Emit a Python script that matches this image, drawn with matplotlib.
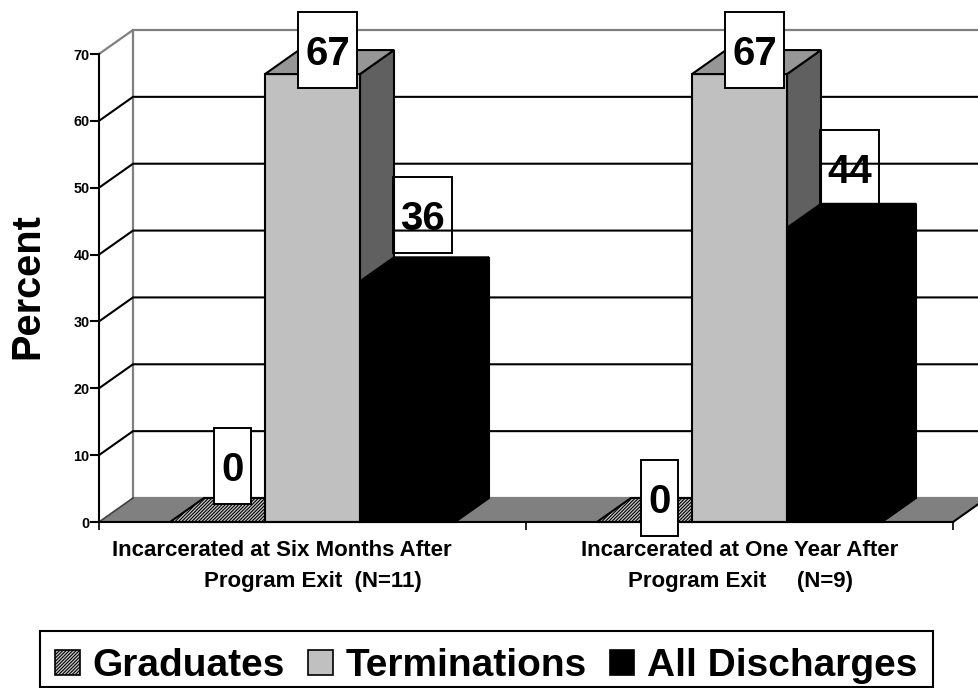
import matplotlib
matplotlib.use("Agg")
import matplotlib.pyplot as plt
from matplotlib.patches import Patch, Polygon, Rectangle

plt.rcParams["font.family"] = ["Liberation Sans", "DejaVu Sans"]
plt.rcParams["font.weight"] = "bold"
plt.rcParams["hatch.linewidth"] = 0.8

# Chart values
series_names = ["Graduates", "Terminations", "All Discharges"]
six_months = [0, 67, 36]
one_year = [0, 67, 44]
groups = [six_months, one_year]
y_ticks = [0, 10, 20, 30, 40, 50, 60, 70]
group_label_lines = [
    ["Incarcerated at Six Months After", "Program Exit  (N=11)"],
    ["Incarcerated at One Year After", "Program Exit     (N=9)"],
]

# Plot frame in pixels on a 979x688 canvas
W, H = 979, 688
LEFT, RIGHT, BASE, TOP = 99, 953, 522, 54
fig = plt.figure(figsize=(W / 100, H / 100), dpi=100, facecolor="white")
ax = fig.add_axes([LEFT / W, 1 - BASE / H, (RIGHT - LEFT) / W, (BASE - TOP) / H])
ax.set_xlim(0, 2)
ax.set_ylim(0, 70)
ax.patch.set_visible(False)

# Converters from pixels to axis units
sx = 2 / (RIGHT - LEFT)
sy = 70 / (BASE - TOP)
DX, DY = 34 * sx, 24 * sy      # oblique depth of the 3-D box
BAR_W = 95 * sx
GAP = 71 * sx

WALL = "#808080"
ax.add_patch(Polygon([(0, 0), (2, 0), (2 + DX, DY), (DX, DY)], closed=True,
                     fc="#808080", ec="none", zorder=1, clip_on=False))
ax.plot([0, DX, DX, 2 + DX], [70, 70 + DY, DY, DY], color=WALL, lw=1.6,
        zorder=1.2, clip_on=False)
ax.plot([DX, 2 + DX], [70 + DY, 70 + DY], color=WALL, lw=1.6, zorder=1.2, clip_on=False)
ax.plot([0, DX], [0, DY], color="#404040", lw=1.2, zorder=1.2, clip_on=False)
ax.plot([2, 2 + DX], [0, DY], color="black", lw=1.5, zorder=1.2, clip_on=False)
for v in y_ticks[1:-1]:
    ax.plot([0, DX, 2 + DX], [v, v + DY, v + DY], color="black", lw=1.5,
            zorder=1.3, clip_on=False)


def draw_bar(x, value, front, top, side, hatch=None):
    """Front, top and right faces of one oblique bar."""
    kw = dict(closed=True, clip_on=False, joinstyle="miter", zorder=2)
    edge = dict(ec="black", lw=1.5)
    if value > 0:
        ax.add_patch(Polygon([(x + BAR_W, 0), (x + BAR_W + DX, DY),
                              (x + BAR_W + DX, value + DY), (x + BAR_W, value)],
                             fc=side, **edge, **kw))
        ax.add_patch(Polygon([(x, 0), (x + BAR_W, 0), (x + BAR_W, value), (x, value)],
                             fc=front, **edge, **kw))
    ax.add_patch(Polygon([(x, value), (x + BAR_W, value), (x + BAR_W + DX, value + DY),
                          (x + DX, value + DY)], fc=top, hatch=hatch, **edge, **kw))


# Face colours per series: front, top, side
faces = [("#c0c0c0", "#c8c8c8", "#606060"),
         ("#c0c0c0", "#969696", "#606060"),
         ("black", "black", "black")]
for g, values in enumerate(groups):
    for s, v in enumerate(values):
        front, top, side = faces[s]
        draw_bar(g + GAP + s * BAR_W, v, front, top, side,
                 hatch="//////////" if s == 0 else None)

# Hand-placed value boxes: vertical lift above the bar front, in pixels
label_lift = [[56, 24, 66], [24, 24, 60]]
label_fill = [["white", "white", "none"], ["white", "white", "none"]]
BOX_H = 76 * sy
for g, values in enumerate(groups):
    for s, v in enumerate(values):
        text = str(v)
        cx = g + GAP + s * BAR_W + 62.5 * sx
        cy = v + label_lift[g][s] * sy
        bw = (37 if len(text) == 1 else 59) * sx
        ax.add_patch(Rectangle((cx - bw / 2, cy - BOX_H / 2), bw, BOX_H,
                               fc=label_fill[g][s], ec="black", lw=1.4,
                               zorder=3, clip_on=False))
        ax.text(cx, cy, text, ha="center", va="center_baseline", fontsize=29,
                fontweight="bold", color="black", zorder=4, clip_on=False)

# Axes furniture
for name in ("top", "right"):
    ax.spines[name].set_visible(False)
for name in ("left", "bottom"):
    ax.spines[name].set_linewidth(1.5)
    ax.spines[name].set_zorder(2.5)
ax.set_yticks(y_ticks)
ax.set_yticklabels([str(t) for t in y_ticks], fontsize=10.4, fontweight="bold")
ax.tick_params(axis="y", length=6.2, width=1.5, pad=0.5)
ax.set_xticks([0, 1, 2])
ax.set_xticklabels([])
ax.tick_params(axis="x", direction="out", length=6, width=1.2)

ax.text(27 / W, 1 - 286 / H, "Percent", transform=fig.transFigure, rotation=90,
        ha="center", va="center", fontsize=28.6, fontweight="bold")

# Category captions, two separately centred lines under each group
caption_centres = [[282, 313], [740, 741]]
caption_rows = [550, 581]
for lines, centres in zip(group_label_lines, caption_centres):
    for line, cx, row in zip(lines, centres, caption_rows):
        ax.text(cx / W, 1 - row / H, line, transform=fig.transFigure, ha="center",
                va="center", fontsize=16, fontweight="bold", clip_on=False)

# Legend: a frame of fixed extent around a frameless entry row
fig.add_artist(Rectangle((40 / W, 1 - 687 / H), 893 / W, 56 / H, fc="white", ec="black",
                         lw=1.5, transform=fig.transFigure, zorder=1))
handles = [Patch(fc="#c8c8c8", ec="black", lw=1.2, hatch="//////////"),
           Patch(fc="#c0c0c0", ec="black", lw=1.2),
           Patch(fc="black", ec="black", lw=1.2)]
leg = fig.legend(handles, series_names, ncol=3, loc="center left",
                 bbox_to_anchor=(55 / W, 1 - 666 / H), bbox_transform=fig.transFigure,
                 fontsize=28, frameon=False, borderpad=0, borderaxespad=0,
                 handlelength=0.63, handleheight=0.63, handletextpad=0.33,
                 columnspacing=0.6, labelspacing=0)
leg.set_zorder(2)

fig.savefig("out.png", dpi=100)
